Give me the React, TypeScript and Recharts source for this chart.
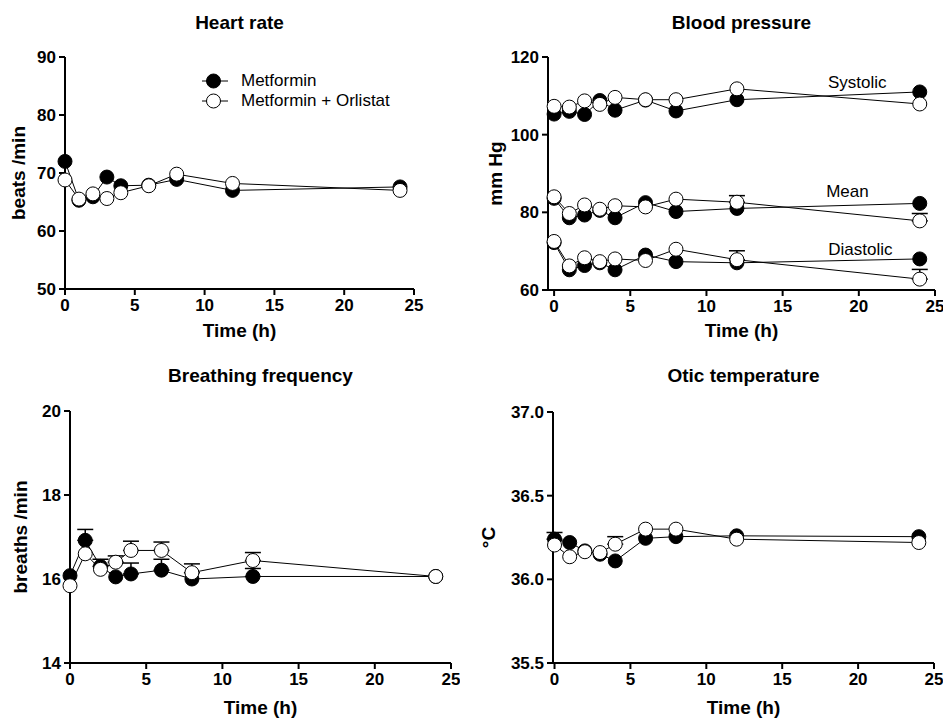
import React from "react";
import {
  ErrorBar,
  Legend,
  Line,
  LineChart,
  ReferenceDot,
  XAxis,
  YAxis,
} from "recharts";

const FONT = "'Liberation Sans', Arial, Helvetica, sans-serif";

// sampling times (h)
const hours = [0, 1, 2, 3, 4, 6, 8, 12, 24];
const timeTicks = [0, 5, 10, 15, 20, 25];

// heart rate (beats /min)
const hrMet = [72.0, 65.3, 65.9, 69.3, 67.8, 67.9, 68.9, 67.0, 67.6];
const hrMetOrl = [68.8, 65.5, 66.4, 65.6, 66.6, 67.8, 69.8, 68.2, 67.0];
const hrTicks = [50, 60, 70, 80, 90];

// blood pressure (mm Hg)
const sysMet = [105.3, 106.0, 105.2, 108.8, 106.3, 108.9, 106.1, 109.0, 111.0];
const sysMetOrl = [107.3, 107.1, 108.7, 107.8, 109.6, 109.0, 109.0, 111.8, 107.9];
const meanMet = [83.6, 78.6, 79.3, 80.5, 78.6, 82.5, 80.2, 81.0, 82.3];
const meanMetOrl = [84.0, 79.7, 81.9, 80.8, 81.7, 81.4, 83.4, 82.6, 77.8];
const meanMetOrlErr = [null, null, null, null, null, null, null, 1.7, 1.9];
const diaMet = [72.2, 65.2, 66.3, 67.0, 65.2, 69.0, 67.3, 67.0, 68.0];
const diaMetOrl = [72.5, 66.2, 68.3, 67.3, 68.0, 67.6, 70.5, 67.8, 62.8];
const diaMetOrlErr = [null, null, null, null, null, null, null, 2.3, 2.5];
const bpTicks = [60, 80, 100, 120];
const bpLabels = [
  { text: "Systolic", h: 19.9, v: 113.6 },
  { text: "Mean", h: 19.25, v: 85.6 },
  { text: "Diastolic", h: 20.1, v: 70.5 },
];

// breathing frequency (breaths /min)
const brMet = [16.08, 16.92, 16.3, 16.05, 16.12, 16.21, 16.0, 16.06, 16.06];
const brMetErr = [null, 0.26, 0.17, null, 0.26, 0.26, null, 0.19, null];
const brMetOrl = [15.84, 16.6, 16.23, 16.4, 16.68, 16.68, 16.15, 16.44, 16.06];
const brMetOrlErr = [null, null, null, 0.15, 0.22, 0.2, 0.21, 0.19, null];
const brTicks = [14, 16, 18, 20];

// otic temperature (°C)
const tMet = [36.24, 36.22, 36.17, 36.15, 36.11, 36.245, 36.255, 36.26, 36.255];
const tMetErr = [0.04, null, null, null, null, null, null, null, null];
const tMetOrl = [36.205, 36.135, 36.165, 36.16, 36.21, 36.3, 36.3, 36.24, 36.22];
const tMetOrlErr = [null, null, null, null, 0.045, null, null, null, null];
const tTicks = [35.5, 36.0, 36.5, 37.0];

const MET = "Metformin";
const MET_ORL = "Metformin + Orlistat";

type Series = { key: string; name: string; filled: boolean; err?: string };

type Box = { left: number; right: number; top: number; bottom: number };

type PanelProps = {
  left: number;
  top: number;
  width: number;
  height: number;
  plot: Box;
  xDomain: [number, number];
  yDomain: [number, number];
  yTicks: number[];
  yFmt?: (v: number) => string;
  title: string;
  titleY: number;
  yLabel: string;
  yLabelX: number;
  xLabelY: number;
  data: any[];
  series: Series[];
  children?: React.ReactNode;
};

const axisStroke = { stroke: "#000", strokeWidth: 2 };

const boldText = {
  fontFamily: FONT,
  fontWeight: "bold" as const,
  fill: "#000",
};

function renderLegend(props: any) {
  const items = props.payload || [];
  return (
    <div style={{ fontFamily: FONT, fontSize: 17, color: "#000" }}>
      {items.map((it: any) => (
        <div key={it.value} style={{ display: "flex", alignItems: "center", height: 20 }}>
          <svg width={26} height={20}>
            <line x1={0} y1={10} x2={26} y2={10} stroke="#000" strokeWidth={1} />
            <circle
              cx={11.5}
              cy={10}
              r={7}
              fill={it.value === MET ? "#000" : "#fff"}
              stroke="#000"
              strokeWidth={1}
            />
          </svg>
          <span style={{ marginLeft: 13 }}>{it.value}</span>
        </div>
      ))}
    </div>
  );
}

function Panel(p: PanelProps) {
  const margin = { top: p.plot.top, right: p.width - p.plot.right, bottom: 0, left: 0 };
  const cx = (p.plot.left + p.plot.right) / 2;
  const cy = (p.plot.top + p.plot.bottom) / 2;
  const fmt = p.yFmt || ((v: number) => String(v));
  return (
    <div style={{ position: "absolute", left: p.left, top: p.top, width: p.width, height: p.height }}>
      <div
        style={{
          position: "absolute",
          left: cx - 150,
          width: 300,
          top: p.titleY - 16,
          textAlign: "center",
          fontFamily: FONT,
          fontSize: 19,
          fontWeight: "bold",
          lineHeight: "19px",
          zIndex: 2,
        }}
      >
        {p.title}
      </div>
      <LineChart width={p.width} height={p.height} data={p.data} margin={margin}>
        <XAxis
          type="number"
          dataKey="h"
          domain={p.xDomain}
          ticks={timeTicks}
          interval={0}
          height={p.height - p.plot.bottom}
          axisLine={axisStroke}
          tickLine={axisStroke}
          tickSize={6}
          tickMargin={4}
          tick={(t: any) => (
            <text x={t.x} y={t.y} dy="0.71em" textAnchor="middle" fontSize={17} {...boldText}>
              {t.payload.value}
            </text>
          )}
          label={() => (
            <text x={cx} y={p.xLabelY} textAnchor="middle" fontSize={19} {...boldText}>
              Time (h)
            </text>
          )}
        />
        <YAxis
          type="number"
          domain={p.yDomain}
          ticks={p.yTicks}
          interval={0}
          width={p.plot.left}
          axisLine={axisStroke}
          tickLine={axisStroke}
          tickSize={6}
          tickMargin={3}
          tick={(t: any) => (
            <text x={t.x} y={t.y} dy="0.355em" textAnchor="end" fontSize={17} {...boldText}>
              {fmt(t.payload.value)}
            </text>
          )}
          label={() => (
            <text
              x={p.yLabelX}
              y={cy}
              transform={`rotate(-90, ${p.yLabelX}, ${cy})`}
              textAnchor="middle"
              fontSize={19}
              {...boldText}
            >
              {p.yLabel}
            </text>
          )}
        />
        {p.series.map((s) => (
          <Line
            key={s.key}
            dataKey={s.key}
            name={s.name}
            type="linear"
            stroke="#000"
            strokeWidth={1}
            isAnimationActive={false}
            activeDot={false}
            dot={{
              r: 7,
              fill: s.filled ? "#000" : "#fff",
              stroke: "#000",
              strokeWidth: 1,
              clipDot: false,
            }}
          >
            {s.err && (
              <ErrorBar
                dataKey={(row: any) => (row[s.err as string] == null ? undefined : [0, row[s.err as string]])}
                direction="y"
                width={8}
                stroke="#000"
                strokeWidth={1.5}
                isAnimationActive={false}
              />
            )}
          </Line>
        ))}
        {p.children}
      </LineChart>
    </div>
  );
}

const hrData = hours.map((h, i) => ({ h, met: hrMet[i], orl: hrMetOrl[i] }));
const bpData = hours.map((h, i) => ({
  h,
  sysMet: sysMet[i],
  sysOrl: sysMetOrl[i],
  meanMet: meanMet[i],
  meanOrl: meanMetOrl[i],
  meanOrlErr: meanMetOrlErr[i],
  diaMet: diaMet[i],
  diaOrl: diaMetOrl[i],
  diaOrlErr: diaMetOrlErr[i],
}));
const brData = hours.map((h, i) => ({
  h,
  met: brMet[i],
  metErr: brMetErr[i],
  orl: brMetOrl[i],
  orlErr: brMetOrlErr[i],
}));
const tData = hours.map((h, i) => ({
  h,
  met: tMet[i],
  metErr: tMetErr[i],
  orl: tMetOrl[i],
  orlErr: tMetOrlErr[i],
}));

export default function App() {
  return (
    <div
      style={{
        position: "absolute",
        left: 0,
        top: 0,
        width: 943,
        height: 721,
        background: "#fff",
        overflow: "hidden",
      }}
    >
      <Panel
        left={0}
        top={0}
        width={460}
        height={345}
        plot={{ left: 65, right: 414, top: 57, bottom: 289 }}
        xDomain={[0, 25]}
        yDomain={[50, 90]}
        yTicks={hrTicks}
        title="Heart rate"
        titleY={29}
        yLabel="beats /min"
        yLabelX={25}
        xLabelY={337}
        data={hrData}
        series={[
          { key: "met", name: MET, filled: true },
          { key: "orl", name: MET_ORL, filled: false },
        ]}
      >
        <Legend
          layout="vertical"
          align="center"
          verticalAlign="middle"
          wrapperStyle={{ left: 202, top: 71, width: "auto" }}
          content={renderLegend}
        />
      </Panel>
      <Panel
        left={470}
        top={0}
        width={473}
        height={345}
        plot={{ left: 78, right: 465, top: 57, bottom: 290 }}
        xDomain={[-0.4, 25]}
        yDomain={[60, 120]}
        yTicks={bpTicks}
        title="Blood pressure"
        titleY={29}
        yLabel="mm Hg"
        yLabelX={32}
        xLabelY={337}
        data={bpData}
        series={[
          { key: "sysMet", name: MET, filled: true },
          { key: "meanMet", name: MET, filled: true },
          { key: "diaMet", name: MET, filled: true },
          { key: "sysOrl", name: MET_ORL, filled: false },
          { key: "meanOrl", name: MET_ORL, filled: false, err: "meanOrlErr" },
          { key: "diaOrl", name: MET_ORL, filled: false, err: "diaOrlErr" },
        ]}
      >
        {bpLabels.map((l) => (
          <ReferenceDot
            key={l.text}
            x={l.h}
            y={l.v}
            r={0}
            fill="none"
            stroke="none"
            label={{ value: l.text, position: "center", fill: "#000", fontSize: 17, fontFamily: FONT }}
          />
        ))}
      </Panel>
      <Panel
        left={0}
        top={360}
        width={460}
        height={361}
        plot={{ left: 70, right: 451, top: 51, bottom: 303 }}
        xDomain={[0, 25]}
        yDomain={[14, 20]}
        yTicks={brTicks}
        title="Breathing frequency"
        titleY={22}
        yLabel="breaths /min"
        yLabelX={27}
        xLabelY={354}
        data={brData}
        series={[
          { key: "met", name: MET, filled: true, err: "metErr" },
          { key: "orl", name: MET_ORL, filled: false, err: "orlErr" },
        ]}
      />
      <Panel
        left={470}
        top={360}
        width={473}
        height={361}
        plot={{ left: 83, right: 464, top: 52, bottom: 303 }}
        xDomain={[-0.1, 25]}
        yDomain={[35.5, 37]}
        yTicks={tTicks}
        yFmt={(v: number) => v.toFixed(1)}
        title="Otic temperature"
        titleY={22}
        yLabel="°C"
        yLabelX={25}
        xLabelY={354}
        data={tData}
        series={[
          { key: "met", name: MET, filled: true, err: "metErr" },
          { key: "orl", name: MET_ORL, filled: false, err: "orlErr" },
        ]}
      />
    </div>
  );
}
